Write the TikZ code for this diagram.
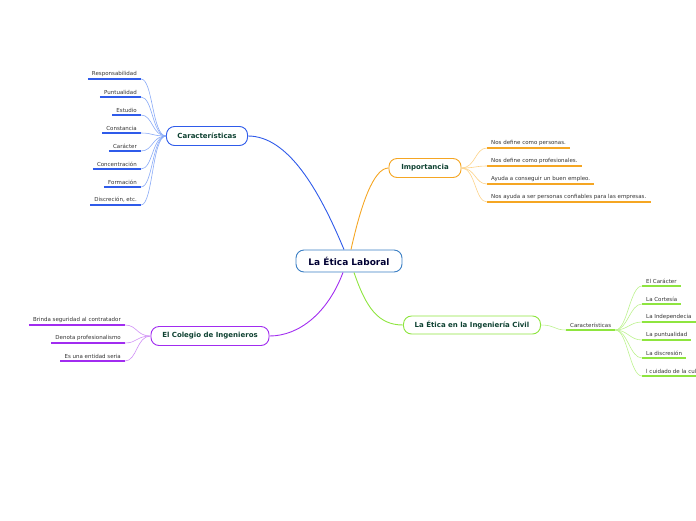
\documentclass[tikz,border=0pt]{standalone}
\usepackage{fontspec}
\setmainfont{DejaVu Sans}
\usepackage{tikz}

\definecolor{azul}{HTML}{2F5BEA}
\definecolor{azulc}{HTML}{8AABF7}
\definecolor{naranja}{HTML}{F5A623}
\definecolor{naranjac}{HTML}{FCD38A}
\definecolor{verde}{HTML}{8EE53F}
\definecolor{verdec}{HTML}{BDF28F}
\definecolor{morado}{HTML}{A12CF0}
\definecolor{moradoc}{HTML}{D08FF6}
\definecolor{titulo}{HTML}{0F4232}
\definecolor{central}{HTML}{3B7FC4}

\begin{document}
\begin{tikzpicture}[x=1pt, y=-1pt,
  every node/.style={font=\fontsize{5.5}{6.5}\selectfont, text=black!80},
  topic/.style={draw, rounded corners=8pt, line width=0.9pt, fill=white,
    font=\fontsize{7}{8}\selectfont\bfseries, text=titulo, minimum height=19, inner sep=0pt},
  leaf/.style={inner xsep=4, inner ysep=2.5},
  rama/.style={line width=0.9pt},
  sub/.style={line width=0.6pt},
  raya/.style={line width=1.4pt}]
  \clip (0,0) rectangle (696,520);
  \useasboundingbox (0,0) rectangle (696,520);

  % Tema central
  \node[topic, draw=central, text=black!80!blue, font=\fontsize{9}{10}\selectfont\bfseries,
    minimum width=106, minimum height=22] (lab) at (349,261) {La Ética Laboral};

  % Ramas principales
  \node[topic, draw=azul, minimum width=81] (car) at (207,136) {Características};
  \node[topic, draw=naranja, minimum width=72] (imp) at (425,168) {Importancia};
  \node[topic, draw=verde, minimum width=137, minimum height=18] (civ) at (472,325) {La Ética en la Ingeniería Civil};
  \node[topic, draw=morado, minimum width=118] (col) at (210,336) {El Colegio de Ingenieros};

  \draw[rama, azul] (lab.north) ++(-5,0) .. controls +(-25,-60) and +(40,0) .. (car.east);
  \draw[rama, naranja] (lab.north) ++(2,0) .. controls +(10,-45) and +(-15,0) .. (imp.west);
  \draw[rama, verde] (lab.south) ++(5,0) .. controls +(12,35) and +(-25,0) .. (civ.west);
  \draw[rama, morado] (lab.south) ++(-6,0) .. controls +(-15,40) and +(30,0) .. (col.east);

  % Características
  \foreach \t/\y [count=\i] in {Responsabilidad/79, Puntualidad/97, Estudio/115,
      Constancia/133, Carácter/151, Concentración/169, Formación/187, Discreción{,} etc./205} {
    \node[leaf, anchor=south east] (c\i) at (141,\y) {\t};
    \draw[raya, azul] (c\i.south west) -- (c\i.south east);
    \draw[sub, azulc] (car.west) .. controls +(-14,0) and +(12,0) .. (c\i.south east);
  }

  % Importancia
  \foreach \t/\y [count=\i] in {Nos define como personas./148, Nos define como profesionales./166,
      Ayuda a conseguir un buen empleo./184, Nos ayuda a ser personas confiables para las empresas./202} {
    \node[leaf, anchor=south west] (i\i) at (487,\y) {\t};
    \draw[raya, naranja] (i\i.south west) -- (i\i.south east);
    \draw[sub, naranjac] (imp.east) .. controls +(14,0) and +(-12,0) .. (i\i.south west);
  }

  % Ingeniería Civil
  \node[leaf, anchor=south west] (cc) at (566,330) {Características};
  \draw[raya, verde] (cc.south west) -- (cc.south east);
  \draw[sub, verdec] (civ.east) .. controls +(14,0) and +(-12,0) .. (cc.south west);
  \foreach \t/\y [count=\i] in {El Carácter/286, La Cortesía/304, La Independecia/322,
      La puntualidad/340, La discresión/358, l cuidado de la cul/376} {
    \node[leaf, anchor=south west] (v\i) at (642,\y) {\t};
    \draw[raya, verde] (v\i.south west) -- (v\i.south east);
    \draw[sub, verdec] (cc.south east) .. controls +(12,0) and +(-12,0) .. (v\i.south west);
  }

  % Colegio
  \foreach \t/\y [count=\i] in {Brinda seguridad al contratador/325, Denota profesionalismo/343,
      Es una entidad seria/361} {
    \node[leaf, anchor=south east] (g\i) at (125,\y) {\t};
    \draw[raya, morado] (g\i.south west) -- (g\i.south east);
    \draw[sub, moradoc] (col.west) .. controls +(-14,0) and +(12,0) .. (g\i.south east);
  }
\end{tikzpicture}
\end{document}
